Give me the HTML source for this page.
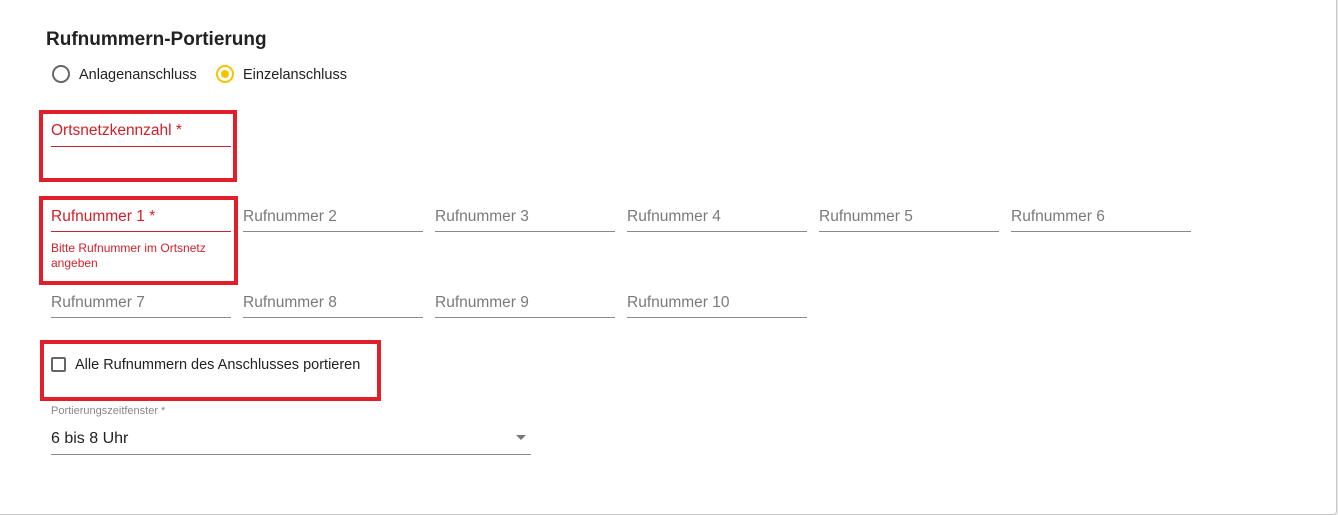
<!DOCTYPE html>
<html><head><meta charset="utf-8"><style>
body{margin:0;width:1338px;height:515px;background:#fff;position:relative;overflow:hidden;font-family:"Liberation Sans",sans-serif;}
.card{position:absolute;left:-4px;top:-4px;width:1341px;height:519px;border:1px solid #c8c8c8;border-radius:4px;box-shadow:1px 1px 2px rgba(0,0,0,.15);box-sizing:border-box;}
.a{position:absolute;white-space:nowrap;}
.lbl{font-size:15.5px;color:#7a7a7a;}
.ul{position:absolute;height:1px;background:#8a8a8a;width:180px;}
.red{color:#d0212b;}
.box{position:absolute;border:4px solid #e01f2b;box-sizing:border-box;}
</style></head><body>
<div class="card"></div>
<div class="a" style="left:46px;top:29px;font-size:19px;font-weight:bold;color:#222;">Rufnummern-Portierung</div>
<div class="a" style="left:52px;top:65px;width:14px;height:14px;border:2px solid #666;border-radius:50%;"></div>
<div class="a" style="left:79px;top:67px;font-size:14.5px;color:#222;">Anlagenanschluss</div>
<div class="a" style="left:216px;top:65px;width:14px;height:14px;border:2px solid #f5c400;border-radius:50%;"></div>
<div class="a" style="left:221px;top:70px;width:8px;height:8px;background:#f5c400;border-radius:50%;"></div>
<div class="a" style="left:243px;top:67px;font-size:14.5px;color:#222;">Einzelanschluss</div>

<div class="box" style="left:39px;top:110px;width:198px;height:72px;"></div>
<div class="a red" style="left:51px;top:122px;font-size:15.5px;">Ortsnetzkennzahl *</div>
<div class="ul" style="left:51px;top:146px;background:#c0282f;"></div>

<div class="box" style="left:39px;top:196px;width:199px;height:89px;"></div>
<div class="a red" style="left:51px;top:208px;font-size:15.5px;">Rufnummer 1 *</div>
<div class="ul" style="left:51px;top:231px;background:#c0282f;"></div>
<div class="a red" style="left:51px;top:241px;font-size:12px;line-height:15px;">Bitte Rufnummer im Ortsnetz<br>angeben</div>

<div class="a lbl" style="left:243px;top:208px;">Rufnummer 2</div><div class="ul" style="left:243px;top:231px;"></div>
<div class="a lbl" style="left:435px;top:208px;">Rufnummer 3</div><div class="ul" style="left:435px;top:231px;"></div>
<div class="a lbl" style="left:627px;top:208px;">Rufnummer 4</div><div class="ul" style="left:627px;top:231px;"></div>
<div class="a lbl" style="left:819px;top:208px;">Rufnummer 5</div><div class="ul" style="left:819px;top:231px;"></div>
<div class="a lbl" style="left:1011px;top:208px;">Rufnummer 6</div><div class="ul" style="left:1011px;top:231px;"></div>

<div class="a lbl" style="left:51px;top:294px;">Rufnummer 7</div><div class="ul" style="left:51px;top:317px;"></div>
<div class="a lbl" style="left:243px;top:294px;">Rufnummer 8</div><div class="ul" style="left:243px;top:317px;"></div>
<div class="a lbl" style="left:435px;top:294px;">Rufnummer 9</div><div class="ul" style="left:435px;top:317px;"></div>
<div class="a lbl" style="left:627px;top:294px;">Rufnummer 10</div><div class="ul" style="left:627px;top:317px;"></div>

<div class="box" style="left:40px;top:340px;width:341px;height:61px;"></div>
<div class="a" style="left:51px;top:357px;width:11px;height:11px;border:2px solid #666;border-radius:2px;"></div>
<div class="a" style="left:75px;top:357px;font-size:14.5px;color:#222;">Alle Rufnummern des Anschlusses portieren</div>

<div class="a" style="left:51px;top:405px;font-size:11px;color:#888;">Portierungszeitfenster *</div>
<div class="a" style="left:51px;top:430px;font-size:16px;color:#222;">6 bis 8 Uhr</div>
<div class="a" style="left:516px;top:435px;width:0;height:0;border-left:5px solid transparent;border-right:5px solid transparent;border-top:5px solid #777;"></div>
<div class="ul" style="left:51px;top:454px;width:480px;"></div>
</body></html>
